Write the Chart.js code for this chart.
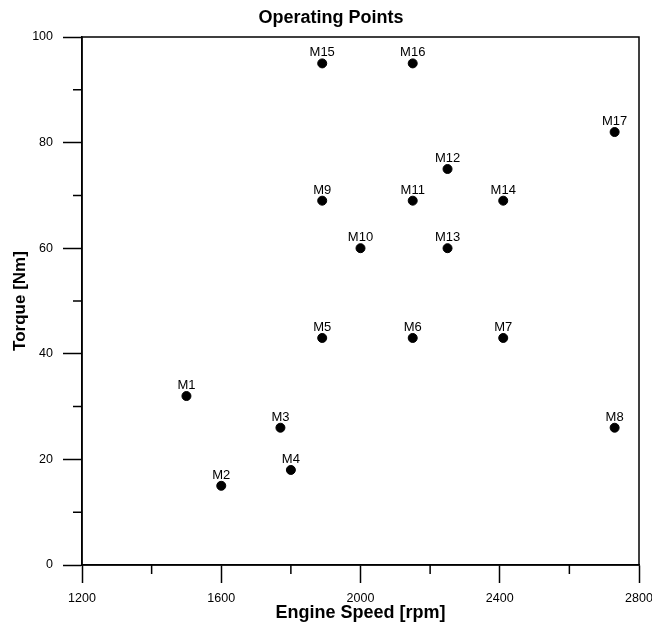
<!DOCTYPE html>
<html>
<head>
<meta charset="utf-8">
<script src="https://cdn.jsdelivr.net/npm/chart.js@4.4.1/dist/chart.umd.min.js"></script>
<style>
  html, body { margin: 0; padding: 0; background: #fff; }
  #wrap { width: 652px; height: 622px; }
</style>
</head>
<body>
<div id="wrap"><canvas id="opChart"></canvas></div>
<script>
// Operating points of the engine test matrix
const pointNames = ['M1', 'M2', 'M3', 'M4', 'M5', 'M6', 'M7', 'M8', 'M9',
                    'M10', 'M11', 'M12', 'M13', 'M14', 'M15', 'M16', 'M17'];
const engineSpeed = [1500, 1600, 1770, 1800, 1890, 2150, 2410, 2730, 1890,
                     2000, 2150, 2250, 2250, 2410, 1890, 2150, 2730];
const torque = [32, 15, 26, 18, 43, 43, 43, 26, 69,
                60, 69, 75, 60, 69, 95, 95, 82];

// axis ranges and minor tick positions
const speedRange = [1200, 2800];
const torqueRange = [0, 100];
const speedMinor = [1400, 1800, 2200, 2600];
const torqueMinor = [10, 30, 50, 70, 90];

const FONT = '"Liberation Sans", Arial, sans-serif';

// frame around the plot + small unlabeled ticks between the labeled ones
const framePlugin = {
    id: 'frame',
    afterDraw(chart) {
        const { ctx, chartArea: a, scales } = chart;
        ctx.save();
        ctx.strokeStyle = '#000';
        ctx.lineWidth = 1.5;
        ctx.strokeRect(a.left, a.top, a.right - a.left, a.bottom - a.top);
        ctx.beginPath();
        speedMinor.forEach(v => {
            const x = scales.x.getPixelForValue(v);
            ctx.moveTo(x, a.bottom);
            ctx.lineTo(x, a.bottom + 9);
        });
        torqueMinor.forEach(v => {
            const y = scales.y.getPixelForValue(v);
            ctx.moveTo(a.left, y);
            ctx.lineTo(a.left - 9, y);
        });
        ctx.stroke();
        ctx.restore();
    }
};

// name of each operating point written just above its marker
const pointLabels = {
    id: 'pointLabels',
    afterDatasetsDraw(chart) {
        const { ctx } = chart;
        const meta = chart.getDatasetMeta(0);
        ctx.save();
        ctx.fillStyle = '#000';
        ctx.font = '13px ' + FONT;
        ctx.textAlign = 'center';
        ctx.textBaseline = 'alphabetic';
        meta.data.forEach((pt, i) => {
            ctx.fillText(pointNames[i], pt.x, pt.y - 7);
        });
        ctx.restore();
    }
};

const data = engineSpeed.map((s, i) => ({ x: s, y: torque[i] }));

new Chart(document.getElementById('opChart'), {
    type: 'scatter',
    data: {
        datasets: [{
            label: 'Operating Points',
            data: data,
            backgroundColor: '#000',
            borderColor: '#000',
            pointRadius: 4.5,
            pointHoverRadius: 4.5
        }]
    },
    options: {
        responsive: true,
        maintainAspectRatio: false,
        animation: false,
        layout: { padding: { left: 23, right: 13, top: 0, bottom: 0 } },
        plugins: {
            legend: { display: false },
            tooltip: { enabled: false },
            title: {
                display: true,
                text: 'Operating Points',
                color: '#000',
                font: { family: FONT, size: 18, weight: 'bold', lineHeight: 1.2 },
                padding: { top: 7, bottom: 8.4 }
            }
        },
        scales: {
            x: {
                type: 'linear',
                min: speedRange[0],
                max: speedRange[1],
                afterFit: s => {
                    s.height = 57;
                    s.paddingLeft = 0;
                    s.paddingRight = 0;
                },
                ticks: {
                    stepSize: 400,
                    color: '#000',
                    font: { family: FONT, size: 12.5 },
                    padding: 8,
                    maxRotation: 0,
                    callback: v => String(v)
                },
                grid: { drawOnChartArea: false, tickLength: 18, tickColor: '#000', tickWidth: 1.5 },
                border: { color: '#000', width: 1.5 },
                title: {
                    display: true,
                    text: 'Engine Speed [rpm]',
                    color: '#000',
                    font: { family: FONT, size: 18, weight: 'bold', lineHeight: 1 },
                    padding: { top: 0, bottom: 0 }
                }
            },
            y: {
                type: 'linear',
                min: torqueRange[0],
                max: torqueRange[1],
                afterFit: s => { s.width = 59; },
                ticks: {
                    stepSize: 20,
                    color: '#000',
                    font: { family: FONT, size: 12.5 },
                    padding: 10
                },
                grid: { drawOnChartArea: false, tickLength: 19, tickColor: '#000', tickWidth: 1.5 },
                border: { color: '#000', width: 1.5 },
                title: {
                    display: true,
                    text: 'Torque [Nm]',
                    color: '#000',
                    font: { family: FONT, size: 17, weight: 'bold', lineHeight: 1.2 },
                    padding: { top: -13, bottom: 0 }
                }
            }
        }
    },
    plugins: [framePlugin, pointLabels]
});
</script>
</body>
</html>
